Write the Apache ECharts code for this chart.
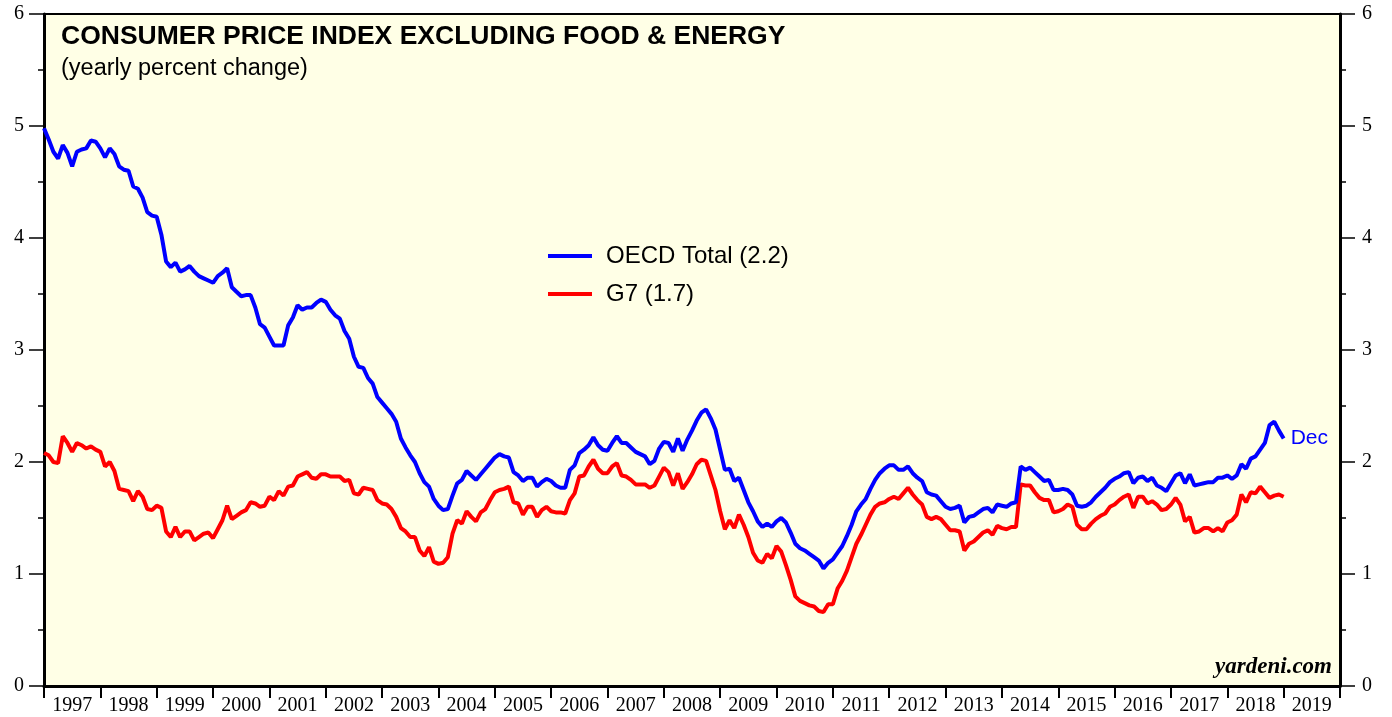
<!DOCTYPE html>
<html>
<head>
<meta charset="utf-8">
<title>Consumer Price Index Excluding Food & Energy</title>
<script src="https://cdn.jsdelivr.net/npm/echarts@6/dist/echarts.min.js"></script>
<style>
  html, body { margin: 0; padding: 0; background: #fff; }
  #chart { width: 1392px; height: 717px; }
</style>
</head>
<body>
<div id="chart"></div>
<script>
// monthly yoy %, Dec 1996 .. Dec 2018
const startYear = 1997;
const yearLabels = ["1997", "1998", "1999", "2000", "2001", "2002", "2003", "2004", "2005", "2006", "2007", "2008",
  "2009", "2010", "2011", "2012", "2013", "2014", "2015", "2016", "2017", "2018", "2019"];
const yTicks = [0, 1, 2, 3, 4, 5, 6];

const oecdTotal = [
  4.98, 4.88, 4.77, 4.71, 4.83, 4.76, 4.64, 4.77, 4.79, 4.80, 4.87, 4.86, 4.80,
  4.72, 4.80, 4.75, 4.64, 4.61, 4.60, 4.46, 4.44, 4.36, 4.23, 4.20, 4.19,
  4.03, 3.79, 3.74, 3.78, 3.70, 3.72, 3.75, 3.70, 3.66, 3.64, 3.62, 3.60,
  3.66, 3.69, 3.73, 3.56, 3.52, 3.48, 3.49, 3.49, 3.38, 3.23, 3.20, 3.12,
  3.04, 3.04, 3.04, 3.22, 3.29, 3.40, 3.36, 3.38, 3.38, 3.42, 3.45, 3.43,
  3.36, 3.31, 3.28, 3.17, 3.10, 2.94, 2.85, 2.84, 2.75, 2.70, 2.58, 2.53,
  2.48, 2.43, 2.36, 2.21, 2.13, 2.06, 2.00, 1.90, 1.82, 1.78, 1.67, 1.61,
  1.57, 1.58, 1.70, 1.81, 1.84, 1.92, 1.88, 1.84, 1.89, 1.94, 1.99, 2.04,
  2.07, 2.05, 2.04, 1.91, 1.88, 1.83, 1.86, 1.86, 1.78, 1.82, 1.85, 1.83,
  1.79, 1.77, 1.77, 1.93, 1.97, 2.08, 2.11, 2.15, 2.22, 2.15, 2.11, 2.10,
  2.17, 2.23, 2.17, 2.17, 2.13, 2.09, 2.07, 2.05, 1.98, 2.01, 2.12, 2.18,
  2.17, 2.09, 2.21, 2.10, 2.20, 2.28, 2.37, 2.44, 2.47, 2.39, 2.29, 2.11,
  1.93, 1.94, 1.83, 1.86, 1.75, 1.64, 1.56, 1.47, 1.42, 1.45, 1.42, 1.47,
  1.50, 1.46, 1.37, 1.27, 1.23, 1.21, 1.18, 1.15, 1.12, 1.05, 1.10, 1.13,
  1.19, 1.25, 1.34, 1.44, 1.56, 1.62, 1.67, 1.76, 1.84, 1.90, 1.94, 1.97,
  1.97, 1.93, 1.93, 1.96, 1.90, 1.86, 1.83, 1.73, 1.71, 1.70, 1.65, 1.60,
  1.58, 1.59, 1.61, 1.46, 1.51, 1.52, 1.55, 1.58, 1.59, 1.55, 1.62, 1.61,
  1.60, 1.63, 1.64, 1.96, 1.93, 1.95, 1.91, 1.87, 1.83, 1.84, 1.75, 1.75,
  1.76, 1.75, 1.71, 1.61, 1.60, 1.61, 1.64, 1.69, 1.73, 1.77, 1.82, 1.85,
  1.87, 1.90, 1.91, 1.81, 1.86, 1.87, 1.83, 1.86, 1.79, 1.77, 1.74, 1.81,
  1.88, 1.90, 1.81, 1.89, 1.79, 1.80, 1.81, 1.82, 1.82, 1.86, 1.86, 1.88,
  1.85, 1.88, 1.98, 1.94, 2.03, 2.05, 2.11, 2.17, 2.33, 2.36, 2.28, 2.21
];

const g7 = [
  2.08, 2.06, 2.00, 1.99, 2.23, 2.17, 2.09, 2.17, 2.15, 2.12, 2.14, 2.11, 2.09,
  1.96, 2.00, 1.92, 1.76, 1.75, 1.74, 1.65, 1.74, 1.69, 1.58, 1.57, 1.61,
  1.59, 1.38, 1.33, 1.42, 1.33, 1.38, 1.38, 1.30, 1.33, 1.36, 1.37, 1.32,
  1.40, 1.48, 1.61, 1.49, 1.52, 1.55, 1.57, 1.64, 1.63, 1.60, 1.61, 1.69,
  1.66, 1.74, 1.70, 1.78, 1.79, 1.87, 1.89, 1.91, 1.86, 1.85, 1.89, 1.89,
  1.87, 1.87, 1.87, 1.83, 1.84, 1.72, 1.71, 1.77, 1.76, 1.75, 1.66, 1.63,
  1.62, 1.58, 1.51, 1.41, 1.38, 1.33, 1.33, 1.21, 1.16, 1.24, 1.11, 1.09,
  1.10, 1.15, 1.36, 1.48, 1.45, 1.56, 1.51, 1.47, 1.55, 1.58, 1.66, 1.73,
  1.75, 1.76, 1.78, 1.64, 1.63, 1.53, 1.60, 1.60, 1.51, 1.57, 1.60, 1.56,
  1.55, 1.55, 1.54, 1.66, 1.72, 1.87, 1.88, 1.96, 2.02, 1.94, 1.90, 1.90,
  1.96, 1.99, 1.88, 1.87, 1.84, 1.80, 1.80, 1.80, 1.77, 1.79, 1.87, 1.95,
  1.91, 1.79, 1.90, 1.76, 1.82, 1.89, 1.98, 2.02, 2.01, 1.88, 1.75, 1.56,
  1.40, 1.48, 1.41, 1.53, 1.44, 1.33, 1.19, 1.12, 1.10, 1.18, 1.14, 1.25,
  1.20, 1.08, 0.95, 0.80, 0.76, 0.74, 0.72, 0.71, 0.67, 0.66, 0.73, 0.73,
  0.87, 0.94, 1.03, 1.15, 1.27, 1.35, 1.44, 1.53, 1.60, 1.63, 1.64, 1.67,
  1.69, 1.67, 1.72, 1.77, 1.71, 1.66, 1.62, 1.51, 1.49, 1.51, 1.49, 1.44,
  1.39, 1.39, 1.38, 1.21, 1.27, 1.29, 1.33, 1.37, 1.39, 1.35, 1.43, 1.41,
  1.40, 1.42, 1.42, 1.80, 1.79, 1.79, 1.73, 1.68, 1.66, 1.66, 1.55, 1.56,
  1.58, 1.62, 1.60, 1.44, 1.40, 1.40, 1.45, 1.49, 1.52, 1.54, 1.60, 1.62,
  1.66, 1.69, 1.71, 1.59, 1.69, 1.69, 1.63, 1.65, 1.62, 1.57, 1.58, 1.62,
  1.68, 1.62, 1.47, 1.51, 1.37, 1.38, 1.41, 1.41, 1.38, 1.41, 1.38, 1.46,
  1.48, 1.53, 1.71, 1.64, 1.73, 1.72, 1.78, 1.73, 1.68, 1.70, 1.71, 1.69
];

const toPoints = arr => arr.map((v, i) => [startYear + i / 12, v]);

const chart = echarts.init(document.getElementById("chart"));

const serif = "Liberation Serif";
const sans = "Liberation Sans";

const yAxisBase = {
  type: "value",
  min: yTicks[0],
  max: yTicks[yTicks.length - 1],
  interval: 1,
  splitLine: { show: false },
  axisLine: { show: true, lineStyle: { color: "#000", width: 3 } },
  axisTick: { show: true, length: 15, lineStyle: { color: "#000", width: 1.5 } },
  minorTick: { show: true, splitNumber: 2, length: 6, lineStyle: { color: "#000", width: 1.5 } },
  axisLabel: { fontFamily: serif, fontSize: 20, color: "#000", margin: 20 }
};

const option = {
  animation: false,
  backgroundColor: "#ffffff",
  grid: {
    left: 44,
    right: 52,
    top: 14,
    bottom: 31,
    show: true,
    backgroundColor: "#ffffe6",
    borderColor: "#000",
    borderWidth: 2
  },
  title: {
    text: "CONSUMER PRICE INDEX EXCLUDING FOOD & ENERGY",
    subtext: "(yearly percent change)",
    left: 56,
    top: 18,
    itemGap: 7,
    textStyle: { fontFamily: sans, fontWeight: "bold", fontSize: 26.5, color: "#000" },
    subtextStyle: { fontFamily: sans, fontSize: 23.5, color: "#000" }
  },
  legend: {
    orient: "vertical",
    left: 543,
    top: 239,
    itemWidth: 44,
    itemHeight: 4,
    itemGap: 14,
    icon: "rect",
    textStyle: { fontFamily: sans, fontSize: 24, color: "#000", lineHeight: 22, padding: [0, 0, 0, 9] },
    data: ["OECD Total (2.2)", "G7 (1.7)"]
  },
  xAxis: [
    {
      type: "category",
      data: yearLabels,
      boundaryGap: true,
      position: "bottom",
      axisLine: { show: true, lineStyle: { color: "#000", width: 3 } },
      axisTick: { show: true, interval: 0, length: 12, lineStyle: { color: "#000", width: 2 } },
      axisLabel: { interval: 0, fontFamily: serif, fontSize: 20, color: "#000", margin: 10 },
      splitLine: { show: false }
    },
    {
      type: "value",
      min: startYear,
      max: 2020,
      show: false
    }
  ],
  yAxis: [
    Object.assign({}, yAxisBase, { position: "left" }),
    Object.assign({}, yAxisBase, { position: "right", axisLabel: Object.assign({}, yAxisBase.axisLabel, { margin: 22 }) })
  ],
  series: [
    {
      name: "OECD Total (2.2)",
      type: "line",
      xAxisIndex: 1,
      yAxisIndex: 0,
      data: toPoints(oecdTotal),
      showSymbol: false,
      color: "#0000ff",
      lineStyle: { color: "#0000ff", width: 4 },
      endLabel: {
        show: true,
        formatter: "Dec",
        color: "#0000ff",
        fontFamily: sans,
        fontSize: 21,
        distance: 7
      },
      z: 3
    },
    {
      name: "G7 (1.7)",
      type: "line",
      xAxisIndex: 1,
      yAxisIndex: 0,
      data: toPoints(g7),
      showSymbol: false,
      color: "#ff0000",
      lineStyle: { color: "#ff0000", width: 4 },
      z: 2
    }
  ],
  graphic: [
    {
      type: "text",
      right: 60,
      top: 656,
      style: {
        text: "yardeni.com",
        font: "italic bold 23px 'Liberation Serif'",
        fill: "#000"
      }
    }
  ]
};

chart.setOption(option);
</script>
</body>
</html>
